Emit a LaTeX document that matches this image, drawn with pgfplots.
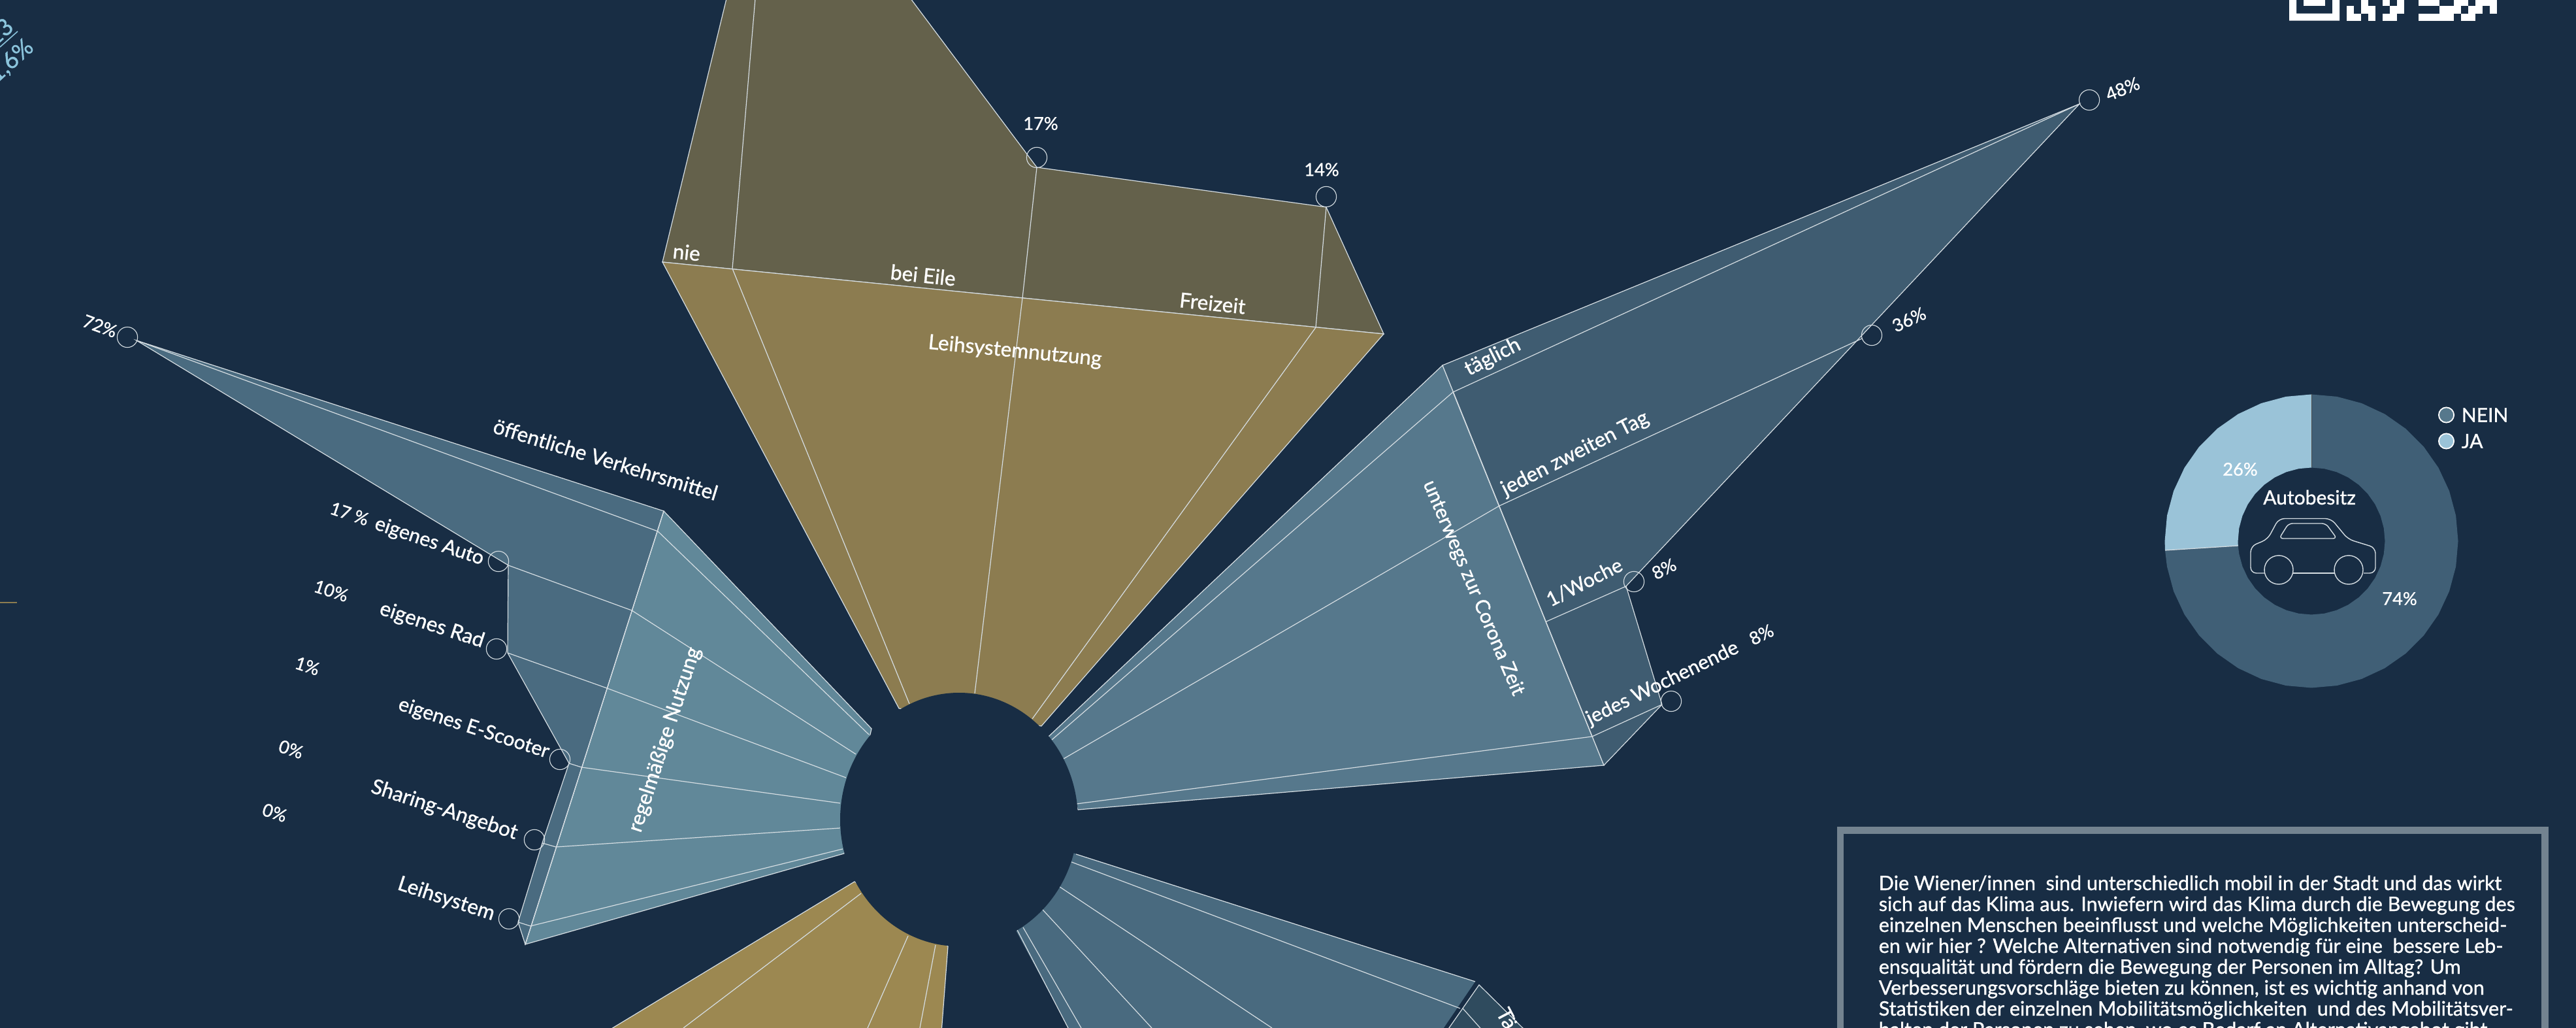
\documentclass[border=0pt]{standalone}
\usepackage{pgfplots}
\pgfplotsset{compat=1.18}
\usepackage{fontspec}
\setmainfont{Lato}[FakeBold=1.0]
\definecolor{bg}{HTML}{182D44}
\definecolor{lin}{HTML}{D5DDE2}
\definecolor{gdark}{HTML}{64614B}
\definecolor{glight}{HTML}{8C7C50}
\definecolor{gbot}{HTML}{9C8851}
\definecolor{rdark}{HTML}{3F5C71}
\definecolor{rlight}{HTML}{56788C}
\definecolor{ldark}{HTML}{4A6B80}
\definecolor{llight}{HTML}{618899}
\definecolor{bright}{HTML}{496A7F}
\definecolor{bdark}{HTML}{2F4B5E}
\definecolor{nein}{HTML}{405F76}
\definecolor{ja}{HTML}{9AC3D8}
\definecolor{frag}{HTML}{8BC4DC}
\definecolor{frame}{HTML}{738390}
\pgfplotsset{
  full/.style={at={(0,0)},anchor=south west,width=985.75pt,height=393.25pt,scale only axis,hide axis,clip=true},
  ln/.style={draw=lin,line width=0.3pt},
  pts/.style={only marks,mark=o,mark size=3.9pt,mark options={draw=lin,line width=0.28pt}}
}
\newcommand{\lab}[4]{\node[text=white,inner sep=0pt,font=\fontsize{7.9}{8}\selectfont,rotate=#3] at (axis cs:#1,#2) {#4};}
\newcommand{\labm}[4]{\node[text=white,inner sep=0pt,font=\fontsize{7.6}{8}\selectfont,rotate=#3] at (axis cs:#1,#2) {#4};}
\newcommand{\labs}[4]{\node[text=white,inner sep=0pt,font=\fontsize{7.5}{8}\selectfont,rotate=#3] at (axis cs:#1,#2) {#4};}
\newcommand{\pct}[4]{\node[text=white,inner sep=0pt,font=\fontsize{6.8}{8}\selectfont,rotate=#3] at (axis cs:#1,#2) {#4};}
\newcommand{\para}[2]{\node[text=white,inner sep=0pt,anchor=base west,font=\fontsize{7.62}{8}\selectfont] at (axis cs:2875,#1) {#2};}
\newcommand{\qr}[4]{\fill[white] (axis cs:#1,#2) rectangle (axis cs:#3,#4);}
\begin{document}
\begin{tikzpicture}
\useasboundingbox (0,0) rectangle (985.75pt,393.25pt);
\clip (0,0) rectangle (985.75pt,393.25pt);
\fill[bg] (0,0) rectangle (985.75pt,393.25pt);

% donut: centre at 0,0 of this axis, polar data (angle, radius)
\begin{axis}[full,xmin=-3538,xmax=405,ymin=-745,ymax=828]
\addplot[fill=nein,draw=none,data cs=polar] coordinates {
(90,224.5)(80,224.5)(70,224.5)(60,224.5)(50,224.5)(40,224.5)(30,224.5)(20,224.5)(10,224.5)(0,224.5)
(-10,224.5)(-20,224.5)(-30,224.5)(-40,224.5)(-50,224.5)(-60,224.5)(-70,224.5)(-80,224.5)(-90,224.5)
(-100,224.5)(-110,224.5)(-120,224.5)(-130,224.5)(-140,224.5)(-150,224.5)(-160,224.5)(-170,224.5)(-176.4,224.5)
(-176.4,112.5)(-170,112.5)(-160,112.5)(-150,112.5)(-140,112.5)(-130,112.5)(-120,112.5)(-110,112.5)(-100,112.5)
(-90,112.5)(-80,112.5)(-70,112.5)(-60,112.5)(-50,112.5)(-40,112.5)(-30,112.5)(-20,112.5)(-10,112.5)
(0,112.5)(10,112.5)(20,112.5)(30,112.5)(40,112.5)(50,112.5)(60,112.5)(70,112.5)(80,112.5)(90,112.5)
} -- cycle;
\addplot[fill=ja,draw=none,data cs=polar] coordinates {
(90,224.5)(100,224.5)(110,224.5)(120,224.5)(130,224.5)(140,224.5)(150,224.5)(160,224.5)(170,224.5)(180,224.5)(183.6,224.5)
(183.6,112.5)(180,112.5)(170,112.5)(160,112.5)(150,112.5)(140,112.5)(130,112.5)(120,112.5)(110,112.5)(100,112.5)(90,112.5)
} -- cycle;
\addplot[draw=lin,line width=0.3pt,data cs=polar] coordinates {(183.6,112.5)(183.6,224.5)};
\addplot[draw=black!70,line width=0.25pt,data cs=polar] coordinates {(90,112.5)(90,224.5)};
\end{axis}

\begin{axis}[full,xmin=0,xmax=3943,ymin=0,ymax=1573,y dir=reverse]
% ---- top (Leihsystem) wedge
\addplot[fill=gdark,ln] coordinates {(1112,-2)(1014,401)(2118,511)(2030,317)(1587,256)(1394,-2)} -- cycle;
\addplot[fill=glight,ln] coordinates {(1014,401)(2118,511)(1594,1111)(1376,1084)} -- cycle;
\addplot[ln] coordinates {(1156,-2)(1121,411)(1392,1077)};
\addplot[ln] coordinates {(1587,256)(1565,456)(1492,1061)};
\addplot[ln] coordinates {(2030,317)(2014,501)(1580,1100)};
% ---- right wing
\addplot[fill=rlight,ln] coordinates {(2208,559)(2455,1171)(1650,1239)(1605,1127)} -- cycle;
\addplot[fill=rdark,ln] coordinates {(3183,159)(2208,559)(2455,1171)(2544,1078)(2489,897)} -- cycle;
\addplot[ln] coordinates {(3183,159)(2224,600)(1610,1132)};
\addplot[ln] coordinates {(2850,518)(2295,774)(1628,1161)};
\addplot[ln] coordinates {(2489,897)(2367,951)};
\addplot[ln] coordinates {(2544,1078)(2437,1127)(1648,1230)};
\addplot[ln] coordinates {(2224,600)(2437,1127)};
% ---- left wing
\addplot[fill=llight,ln] coordinates {(1016,782)(804,1445)(1292,1306)(1334,1115)} -- cycle;
\addplot[fill=ldark,ln] coordinates {(209,521)(1016,782)(804,1445)(793,1411)(830,1290)(871,1168)(777,999)(778,865)} -- cycle;
\addplot[ln] coordinates {(209,521)(1007,813)(1330,1124)};
\addplot[ln] coordinates {(778,865)(967,934)(1310,1154)};
\addplot[ln] coordinates {(777,999)(929,1053)(1295,1190)};
\addplot[ln] coordinates {(871,1168)(890,1174)(1286,1229)};
\addplot[ln] coordinates {(830,1290)(851,1296)(1286,1267)};
\addplot[ln] coordinates {(793,1411)(812,1417)(1290,1299)};
\addplot[ln] coordinates {(1016,782)(804,1445)};
% ---- bottom gold wedge
\addplot[fill=gbot,ln] coordinates {(1308,1349)(1451,1448)(1441,1580)(926,1580)} -- cycle;
\addplot[ln] coordinates {(1318,1367)(1046,1573)};
\addplot[ln] coordinates {(1390,1432)(1328,1573)};
\addplot[ln] coordinates {(1432,1446)(1408,1573)};
% ---- bottom right wing
\addplot[fill=bright,draw=none] coordinates {(1636,1303)(2258,1502)(2205,1580)(1639,1580)(1552,1418)} -- cycle;
\addplot[ln] coordinates {(1647,1307)(2258,1502)};
\addplot[ln] coordinates {(1640,1319)(2235,1543)};
\addplot[ln] coordinates {(1622,1357)(1947,1573)};
\addplot[ln] coordinates {(1596,1392)(1763,1573)};
\addplot[ln] coordinates {(1566,1419)(1655,1573)};
\addplot[ln] coordinates {(1557,1423)(1635,1573)};
\addplot[fill=bdark,ln] coordinates {(2264,1507)(2338,1580)(2213,1580)} -- cycle;
\addplot[ln] coordinates {(2239,1543)(2272,1580)};
% ---- hub
\fill[bg] (axis cs:1468,1254) ellipse [x radius=45.5pt,y radius=48.5pt];
% ---- value circles
\addplot[pts] coordinates {(195,516)(763,859)(760,993)(857,1162)(818,1285)(779,1406)(1587,241)(2030,301)(3198,153)(2865,513)(2501,890)(2558,1073)};
% ---- small gold tick at left edge
\addplot[draw=glight,line width=0.4pt] coordinates {(0,922)(26,922)};
% ---- labels, left
\pct{153}{499}{-20}{72\%}
\lab{927}{703}{-17}{öffentliche Verkehrsmittel}
\pct{535}{786}{-18.5}{17 \%}
\labm{657}{829}{-18.5}{eigenes Auto}
\pct{507}{904}{-18}{10\%}
\lab{661}{957}{-18}{eigenes Rad}
\pct{470.5}{1019}{-18}{1\%}
\labm{725}{1115}{-18}{eigenes E-Scooter}
\pct{445.5}{1146.5}{-18}{0\%}
\lab{680}{1240}{-18}{Sharing-Angebot}
\pct{420.5}{1243.5}{-18}{0\%}
\lab{683}{1376}{-18}{Leihsystem}
\lab{1018}{1132}{72}{regelmäßige Nutzung}
% labels, top
\lab{1051}{386}{-6}{nie}
\lab{1413}{421}{-6}{bei Eile}
\lab{1856}{464}{-6}{Freizeit}
\lab{1553.5}{538}{-5.6}{Leihsystemnutzung}
\pct{1593}{189}{0}{17\%}
\pct{2023}{259.5}{0}{14\%}
% labels, right
\pct{3249}{136}{22}{48\%}
\pct{2922}{489}{25}{36\%}
\lab{2285}{547}{27}{täglich}
\lab{2411}{694.5}{27}{jeden zweiten Tag}
\labm{2425}{891}{27}{1/Woche}
\pct{2547}{870.5}{27}{8\%}
\labm{2545}{1046}{26}{jedes Wochenende}
\pct{2696}{971}{26}{8\%}
\labm{2255}{900}{-67}{unterwegs zur Corona Zeit}
\node[text=white,inner sep=0pt,anchor=west,rotate=-62,font=\fontsize{7.9}{8}\selectfont] at (axis cs:2297,1545) {Täglich};
% ---- clipped fragment at top left
\node[text=frag,inner sep=0pt,anchor=east,rotate=42,font=\fontsize{9}{9}\selectfont] at (axis cs:47,67) {1,6\%};
\node[text=frag,inner sep=0pt,anchor=east,rotate=42,font=\fontsize{9}{9}\selectfont] at (axis cs:15,34) {13};
\addplot[draw=frag,line width=0.4pt] coordinates {(0,72)(27,48)};
% ---- donut labels and legend
\pct{3429}{718}{0}{26\%}
\pct{3673}{916}{0}{74\%}
\labs{3535}{761}{0}{Autobesitz}
\addplot[only marks,mark=*,mark size=2.9pt,mark options={fill=rlight,draw=white,line width=0.45pt}] coordinates {(3744.5,635)};
\addplot[only marks,mark=*,mark size=2.9pt,mark options={fill=ja,draw=white,line width=0.45pt}] coordinates {(3744.5,675)};
\node[text=white,inner sep=0pt,anchor=west,font=\fontsize{7.5}{8}\selectfont] at (axis cs:3767,635) {NEIN};
\node[text=white,inner sep=0pt,anchor=west,font=\fontsize{7.5}{8}\selectfont] at (axis cs:3767,675) {JA};
% ---- car icon
\draw[lin,line width=0.35pt,rounded corners=2.2pt] (axis cs:3466.5,877) -- (axis cs:3445,877) -- (axis cs:3445,836) -- (axis cs:3471,825) -- (axis cs:3488,793.5) -- (axis cs:3568,793.5) -- (axis cs:3594,825) -- (axis cs:3636,838) -- (axis cs:3636,877) -- (axis cs:3618,877);
\draw[lin,line width=0.35pt] (axis cs:3510,877) -- (axis cs:3573.5,877);
\draw[lin,line width=0.35pt,rounded corners=1.5pt] (axis cs:3488.6,824) -- (axis cs:3503,801) -- (axis cs:3560,801) -- (axis cs:3577,824) -- cycle;
\addplot[only marks,mark=o,mark size=5.5pt,mark options={draw=lin,line width=0.35pt}] coordinates {(3488,872)(3595,872)};
% ---- text box
\draw[frame,line width=2.6pt] (axis cs:2817,1700) -- (axis cs:2817,1270.5) -- (axis cs:3895.5,1270.5) -- (axis cs:3895.5,1700);
\para{1362}{Die Wiener/innen\ \ sind unterschiedlich mobil in der Stadt und das wirkt}
\para{1394}{sich auf das Klima aus. Inwiefern wird das Klima durch die Bewegung des}
\para{1426}{einzelnen Menschen beeinflusst und welche Möglichkeiten unterscheid-}
\para{1458}{en wir hier ? Welche Alternativen sind notwendig für eine\ \ bessere Leb-}
\para{1490}{ensqualität und fördern die Bewegung der Personen im Alltag? Um}
\para{1522}{Verbesserungsvorschläge bieten zu können, ist es wichtig anhand von}
\para{1554}{Statistiken der einzelnen Mobilitätsmöglichkeiten\ \ und des Mobilitätsver-}
\para{1586}{halten der Personen zu sehen, wo es Bedarf an Alternativangebot gibt.}
% ---- QR code fragment
\fill[white,even odd rule] (axis cs:3504,-2) rectangle (axis cs:3581,31.7) (axis cs:3515,-2) rectangle (axis cs:3570,20.7);
\qr{3526}{-2}{3559}{9.3}
\qr{3591.7}{20.7}{3613.5}{31.7}\qr{3624.7}{20.7}{3635.7}{31.7}\qr{3646.7}{20.7}{3668.5}{31.7}\qr{3701.7}{20.7}{3756.3}{31.7}\qr{3767.3}{20.7}{3789.3}{31.7}
\qr{3591.7}{9.3}{3602.7}{20.7}\qr{3613.5}{9.3}{3635.7}{20.7}\qr{3657.7}{9.3}{3679.7}{20.7}\qr{3734.3}{9.3}{3767.3}{20.7}\qr{3778.3}{9.3}{3800.3}{20.7}\qr{3811.3}{9.3}{3822.3}{20.7}
\qr{3613.5}{-2}{3624.7}{9.3}\qr{3646.7}{-2}{3657.7}{9.3}\qr{3668.7}{-2}{3679.7}{9.3}\qr{3701.7}{-2}{3734.3}{9.3}\qr{3756.3}{-2}{3778.3}{9.3}\qr{3789.3}{-2}{3822.3}{9.3}
\end{axis}
\end{tikzpicture}
\end{document}
